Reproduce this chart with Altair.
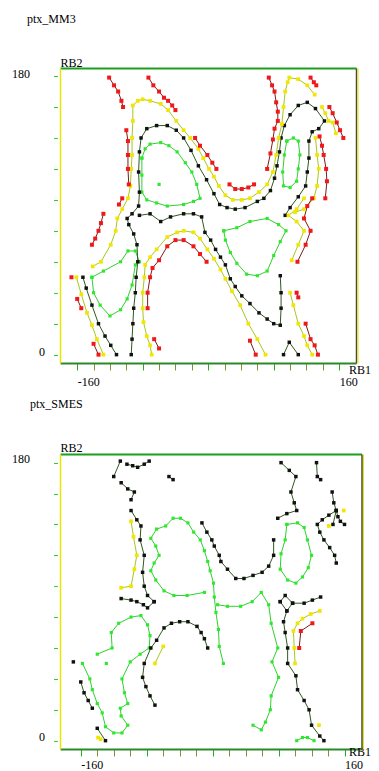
import altair as alt
import pandas as pd

LEVELS = ["green", "black", "yellow", "red"]
LINE_COLORS = ["#2fd02f", "#2d5a1e", "#a6c81e", "#7a1c1c"]
DOT_COLORS = ["#2ee82e", "#111111", "#f2e600", "#f01818"]
DOT_SIZES = [10, 16, 13, 13]

X_TICKS = list(range(-160, 161, 20))
Y_TICKS = list(range(0, 181, 20))

# ---------------- ptx_MM3 (RB1, RB2) ----------------
mm3_green_1 = [(-81,127),(-77,133),(-71,136),(-58,137),(-48,135),(-38,131),(-28,124),(-20,118),(-14,110),(-10,101),(-18,99),(-30,97),(-50,96),(-63,98),(-75,100),(-81,105),(-81,116),(-81,127)]
mm3_green_2 = [(96,138),(104,140),(110,138),(112,129),(110,120),(108,112),(100,108),(92,109),(91,118),(93,129),(96,138)]
mm3_green_3 = [(19,80),(35,82),(51,86),(72,88),(86,84),(95,80),(88,73),(80,64),(72,54),(60,51),(47,52),(35,59),(27,66),(21,74),(19,80)]
mm3_green_4 = [(-142,50),(-128,54),(-107,60),(-98,67),(-89,67),(-84,60),(-89,58),(-93,45),(-99,36),(-107,29),(-120,25),(-132,32),(-140,40),(-142,50)]
mm3_green_5 = [(-60,110)]

mm3_black_1 = [(-94,0),(-93,10),(-92,20),(-91,30),(-89,40),(-88,50),(-86,60),(-87,71),(-91,78),(-97,84),(-99,88),(-93,91),(-85,96),(-84,105),(-85,118),(-84,131),(-82,140),(-75,146),(-63,148),(-50,148),(-39,145),(-30,140),(-21,132),(-12,122),(-2,113),(7,104),(14,97),(23,95),(33,94),(45,95),(60,99),(68,101),(76,106),(81,114),(84,122),(87,131),(89,140),(93,148),(100,155),(110,161),(121,163),(131,159),(142,151),(135,146),(127,144),(123,138),(123,127),(121,118),(119,109),(110,102),(100,95),(94,90)]
mm3_black_2 = [(-84,90),(-71,91),(-58,86),(-46,89),(-30,91),(-18,91),(-8,89),(-4,79),(3,74),(9,68),(15,63),(21,58),(27,49),(33,44),(41,38),(51,33),(62,27),(72,23),(80,20),(88,19),(89,30),(89,40),(88,51)]
mm3_black_3 = [(-153,50),(-149,43),(-142,32),(-134,20),(-126,12),(-119,6),(-112,0)]
mm3_black_4 = [(92,0),(99,8),(110,0)]

mm3_yellow_1 = [(-141,57),(-131,60),(-119,71),(-113,80),(-111,88),(-105,94),(-98,101),(-95,109),(-94,120),(-93,129),(-93,140),(-92,151),(-92,161),(-86,164),(-80,165),(-71,164),(-58,162),(-49,158),(-39,151),(-30,145),(-22,140),(-12,133),(-6,127),(1,120),(7,115),(13,109),(21,103),(30,100),(41,100),(51,101),(62,105),(72,110),(79,118),(83,129),(86,140),(90,149),(92,160),(94,170),(97,176),(99,179),(110,178),(121,174),(130,168)]
mm3_yellow_2 = [(139,160),(143,156),(147,151),(152,150),(156,143)]
mm3_yellow_3 = [(131,140),(133,129),(135,120),(133,109),(129,101),(117,94),(106,92)]
mm3_yellow_4 = [(-69,0),(-71,6),(-75,12),(-79,21),(-80,30),(-80,40),(-78,50),(-77,58),(-71,63),(-63,68),(-50,76),(-38,79),(-30,80),(-18,79),(-10,75),(-1,68),(7,62),(15,55),(21,49),(29,41),(39,32),(49,20),(60,10),(70,0)]
mm3_yellow_5 = [(-161,50),(-155,39),(-148,27),(-142,19),(-136,10),(-128,0)]
mm3_yellow_6 = [(100,40),(104,32),(110,20),(117,12),(121,6),(127,0)]
mm3_yellow_7 = [(117,101),(108,94),(98,90),(108,86),(117,80),(110,71),(102,61)]

mm3_red_1 = [(-121,179),(-115,174),(-110,170),(-106,164),(-104,160)]
mm3_red_2 = [(-73,179),(-67,174),(-60,170),(-54,166),(-49,164),(-44,161),(-40,158)]
mm3_red_3 = [(74,179),(78,174),(81,170),(83,163),(85,157),(85,151),(81,146),(79,139),(76,130),(72,120)]
mm3_red_4 = [(125,179),(129,176),(132,174)]
mm3_red_5 = [(148,160),(152,156),(157,150),(161,145),(165,140)]
mm3_red_6 = [(136,141),(139,135),(141,129),(144,120),(145,112),(143,101)]
mm3_red_7 = [(-16,140),(-10,135),(-1,129),(5,124),(10,120)]
mm3_red_8 = [(26,110),(33,107),(41,107),(49,108),(56,110)]
mm3_red_9 = [(-100,145),(-98,138),(-98,129),(-98,120),(-97,110)]
mm3_red_10 = [(-109,97),(-105,101)]
mm3_red_11 = [(-128,91),(-131,85),(-134,80),(-138,75),(-142,71)]
mm3_red_12 = [(-167,50)]
mm3_red_13 = [(-160,36),(-155,30)]
mm3_red_14 = [(-140,7),(-134,0)]
mm3_red_15 = [(-74,30),(-74,40),(-71,50),(-68,56),(-60,61),(-50,70),(-40,74),(-30,74),(-18,70),(-10,65),(-2,60)]
mm3_red_16 = [(-66,10),(-60,4)]
mm3_red_17 = [(51,9),(58,0)]
mm3_red_18 = [(108,40),(110,37)]
mm3_red_19 = [(119,20),(125,10),(130,6),(134,0)]
mm3_red_20 = [(127,101),(121,96),(117,88),(125,80),(119,71),(109,60)]

MM3_PATHS = [
    ("green", mm3_green_1), ("green", mm3_green_2), ("green", mm3_green_3),
    ("green", mm3_green_4), ("green", mm3_green_5),
    ("black", mm3_black_1), ("black", mm3_black_2), ("black", mm3_black_3), ("black", mm3_black_4),
    ("yellow", mm3_yellow_1), ("yellow", mm3_yellow_2), ("yellow", mm3_yellow_3),
    ("yellow", mm3_yellow_4), ("yellow", mm3_yellow_5), ("yellow", mm3_yellow_6), ("yellow", mm3_yellow_7),
    ("red", mm3_red_1), ("red", mm3_red_2), ("red", mm3_red_3), ("red", mm3_red_4), ("red", mm3_red_5),
    ("red", mm3_red_6), ("red", mm3_red_7), ("red", mm3_red_8), ("red", mm3_red_9), ("red", mm3_red_10),
    ("red", mm3_red_11), ("red", mm3_red_12), ("red", mm3_red_13), ("red", mm3_red_14), ("red", mm3_red_15),
    ("red", mm3_red_16), ("red", mm3_red_17), ("red", mm3_red_18), ("red", mm3_red_19), ("red", mm3_red_20),
]

# ---------------- ptx_SMES (RB1, RB2) ----------------
smes_green_1 = [(-10,96),(-31,94),(-47,94),(-59,97),(-69,104),(-75,110),(-71,115),(-65,120),(-69,126),(-75,131),(-68,137),(-57,139),(-48,144),(-39,144),(-30,141),(-23,135),(-15,130),(-10,123),(-6,116),(-3,110),(1,102),(2,93),(4,83),(7,72),(8,61),(13,50)]
smes_green_2 = [(6,88),(18,87),(34,87),(48,90),(59,96),(68,88),(71,76),(79,60),(72,51),(80,41),(71,29),(70,20),(64,12),(59,7),(49,10)]
smes_green_3 = [(90,140),(103,141),(111,138),(115,130),(120,120),(116,112),(109,106),(101,102),(91,104),(82,111),(83,121),(88,130),(90,140)]
smes_green_4 = [(-140,56),(-122,60),(-123,70),(-114,76),(-99,80),(-87,81),(-79,75),(-76,68),(-77,60),(-88,56),(-100,51),(-110,40),(-107,31),(-103,24),(-112,21),(-111,16),(-103,10),(-110,5),(-120,5),(-130,9),(-134,18),(-140,24),(-146,33),(-149,40),(-158,50)]
smes_green_5 = [(-129,50)]
smes_green_6 = [(102,0),(109,2),(115,2),(123,0)]

smes_black_1 = [(-120,171),(-112,181)]
smes_black_2 = [(-104,179),(-97,178),(-91,177),(-83,179),(-77,181)]
smes_black_3 = [(-53,171),(-48,169)]
smes_black_4 = [(-111,167),(-103,163),(-95,161),(-99,156)]
smes_black_5 = [(-99,149),(-92,143),(-87,139),(-88,130),(-83,120),(-85,109),(-83,100),(-79,94),(-71,90)]
smes_black_6 = [(-111,92),(-99,91),(-92,90),(-84,88),(-79,86),(-71,90)]
smes_black_7 = [(-70,23),(-76,29),(-81,35),(-85,41),(-83,50),(-75,60),(-68,65),(-59,73),(-50,76),(-40,77),(-30,77),(-19,74),(-14,70),(-10,66),(-6,60)]
smes_black_8 = [(-160,38),(-156,31),(-151,26),(-146,21)]
smes_black_9 = [(-169,51)]
smes_black_10 = [(-140,8),(-130,0)]
smes_black_11 = [(82,90),(88,94),(97,89),(90,84),(82,90)]
smes_black_12 = [(97,89),(111,89),(121,91),(131,93)]
smes_black_13 = [(90,84),(86,77),(88,70),(91,60),(91,50),(101,42),(103,33),(111,26),(117,20),(120,10),(130,3),(135,0)]
smes_black_14 = [(-13,141),(-7,135),(-1,130),(2,126),(8,120),(10,116),(18,111),(28,105),(38,105),(49,107),(60,109),(68,113),(74,120),(74,130)]
smes_black_15 = [(83,180),(93,175),(101,171),(95,161),(99,154),(102,149),(90,147),(79,144)]
smes_black_16 = [(126,180),(127,171),(131,169)]
smes_black_17 = [(145,161),(147,154),(150,149),(152,145),(155,142),(160,140)]
smes_black_18 = [(150,149),(141,146),(133,143),(127,140),(130,135),(135,130),(142,125),(148,120),(150,115)]
smes_black_19 = [(150,149),(146,140)]

smes_yellow_1 = [(-99,142),(-96,132),(-92,120),(-95,111),(-99,100),(-111,99)]
smes_yellow_2 = [(-60,61),(-70,50)]
smes_yellow_3 = [(-139,2),(-136,1)]
smes_yellow_4 = [(100,50),(99,60),(98,71),(103,76),(109,79),(119,82),(130,84)]
smes_yellow_5 = [(129,10)]
smes_yellow_6 = [(159,149)]
smes_yellow_7 = [(141,139)]

smes_red_1 = [(105,60),(107,71),(121,76)]

SMES_PATHS = [
    ("green", smes_green_1), ("green", smes_green_2), ("green", smes_green_3),
    ("green", smes_green_4), ("green", smes_green_5), ("green", smes_green_6),
    ("black", smes_black_1), ("black", smes_black_2), ("black", smes_black_3), ("black", smes_black_4),
    ("black", smes_black_5), ("black", smes_black_6), ("black", smes_black_7), ("black", smes_black_8),
    ("black", smes_black_9), ("black", smes_black_10), ("black", smes_black_11), ("black", smes_black_12),
    ("black", smes_black_13), ("black", smes_black_14), ("black", smes_black_15), ("black", smes_black_16),
    ("black", smes_black_17), ("black", smes_black_18), ("black", smes_black_19),
    ("yellow", smes_yellow_1), ("yellow", smes_yellow_2), ("yellow", smes_yellow_3), ("yellow", smes_yellow_4),
    ("yellow", smes_yellow_5), ("yellow", smes_yellow_6), ("yellow", smes_yellow_7),
    ("red", smes_red_1),
]

FONT = "Liberation Serif"


def to_frame(paths):
    rows = []
    for pid, (level, pts) in enumerate(paths):
        for i, (x, y) in enumerate(pts):
            rows.append({"path": pid, "order": i, "level": level, "x": x, "y": y})
    return pd.DataFrame(rows)


def panel(paths, title, title_dx, width, xdom, ydom, rb1_dx, rb1_dy, rb2_dy, ylab_off, xlab_pad):
    df = to_frame(paths)
    xs = alt.Scale(domain=xdom, nice=False, zero=False)
    ys = alt.Scale(domain=ydom, nice=False, zero=False)

    x_axis = alt.Axis(
        orient="bottom", values=X_TICKS, grid=False,
        labelExpr="datum.value == -160 ? '-160' : (datum.value == 160 ? '160' : '')",
        labelAlign="left", labelBaseline="middle", labelPadding=xlab_pad,
        labelFont=FONT, labelFontSize=12, labelColor="black", labelOverlap=False, labelFlush=False,
        tickSize=7, tickWidth=1,
        tickColor={"condition": {"test": "datum.value % 80 == 0", "value": "#22b022"}, "value": "#8c8c3c"},
        domainColor="#2a8a2a", domainWidth=2,
        title="RB1", titleX=width + rb1_dx, titleY=rb1_dy, titleAlign="left", titleBaseline="middle",
        titleFont=FONT, titleFontSize=12, titleFontWeight="normal", titleColor="black",
    )
    # ticks on the left plus the "0" label
    y_axis = alt.Axis(
        orient="left", values=Y_TICKS, grid=False, offset=2.5, domain=False,
        tickSize=4, tickWidth=1, tickColor="#33cc33",
        labelExpr="datum.value == 0 ? '0' : ''",
        labelAlign="right", labelBaseline="middle", labelPadding=9, labelOffset=ylab_off,
        labelFont=FONT, labelFontSize=12, labelColor="black", labelOverlap=False, labelFlush=False,
        title="RB2", titleAngle=0, titleX=2.5, titleY=rb2_dy, titleAlign="left", titleBaseline="alphabetic",
        titleFont=FONT, titleFontSize=12, titleFontWeight="normal", titleColor="black",
    )
    # the "180" label sits further left than the "0" label
    y_axis_180 = alt.Axis(
        orient="left", values=[180], grid=False, offset=2.5, domain=False,
        tickSize=4, tickOpacity=0,
        labelAlign="right", labelBaseline="middle", labelPadding=24, labelOffset=ylab_off,
        labelFont=FONT, labelFontSize=12, labelColor="black", labelOverlap=False, labelFlush=False,
        title=None,
    )
    top_axis = alt.Axis(orient="top", grid=False, ticks=False, labels=False, title=None,
                        domainColor="#1aa01a", domainWidth=2)
    right_axis = alt.Axis(orient="right", grid=False, ticks=False, labels=False, title=None,
                          domainColor="#4a4a3a", domainWidth=1.5)
    left_edge_axis = alt.Axis(orient="left", grid=False, ticks=False, labels=False, title=None,
                              domainColor="#e6e600", domainWidth=1.5)
    right_edge_axis = alt.Axis(orient="right", offset=1.5, grid=False, ticks=False, labels=False,
                               title=None, domainColor="#e6e600", domainWidth=1)

    base = alt.Chart(df)
    lines = base.mark_line(strokeWidth=1).encode(
        x=alt.X("x:Q", scale=xs, axis=x_axis),
        y=alt.Y("y:Q", scale=ys, axis=y_axis),
        detail="path:N",
        order=alt.Order("order:Q"),
        stroke=alt.Stroke("level:N", scale=alt.Scale(domain=LEVELS, range=LINE_COLORS), legend=None),
    )
    dots = base.mark_point(filled=True, shape="square", opacity=1).encode(
        x=alt.X("x:Q", scale=xs, axis=top_axis),
        y=alt.Y("y:Q", scale=ys, axis=right_axis),
        fill=alt.Fill("level:N", scale=alt.Scale(domain=LEVELS, range=DOT_COLORS), legend=None),
        size=alt.Size("level:N", scale=alt.Scale(domain=LEVELS, range=DOT_SIZES), legend=None),
    )
    left_edge = base.mark_point(opacity=0).encode(
        x=alt.X("x:Q", scale=xs, axis=None),
        y=alt.Y("y:Q", scale=ys, axis=left_edge_axis),
    )
    right_edge = base.mark_point(opacity=0).encode(
        x=alt.X("x:Q", scale=xs, axis=None),
        y=alt.Y("y:Q", scale=ys, axis=right_edge_axis),
    )
    label_180 = base.mark_point(opacity=0).encode(
        x=alt.X("x:Q", scale=xs, axis=None),
        y=alt.Y("y:Q", scale=ys, axis=y_axis_180),
    )
    return alt.layer(lines, dots, left_edge, right_edge, label_180).resolve_axis(
        x="independent", y="independent"
    ).properties(
        width=width, height=295,
        title=alt.TitleParams(text=title, anchor="start", frame="group", dx=title_dx, offset=21,
                              font=FONT, fontSize=12, fontWeight="normal", color="black",
                              baseline="alphabetic"),
    )


# the RB1 titles are tucked just under the lower-right corner so the page does not overflow
top = panel(MM3_PATHS, "ptx_MM3", -33, 296, [-181, 180.5], [-5.4, 185.2], -7.5, 6, -2, -3, 11)
# the lower panel's data area sits ~3px further right in the original
bottom = panel(SMES_PATHS, "ptx_SMES", -30, 301.5, [-185.2, 180.6], [-5.4, 185.6], -13, 2.5, -3, -4, 8)

chart = alt.vconcat(top, bottom, spacing=11).configure_view(stroke=None).properties(
    padding={"left": 3, "top": 5, "right": 0, "bottom": 0}
)

chart.save("out.html", embed_options={"renderer": "svg", "actions": False})
